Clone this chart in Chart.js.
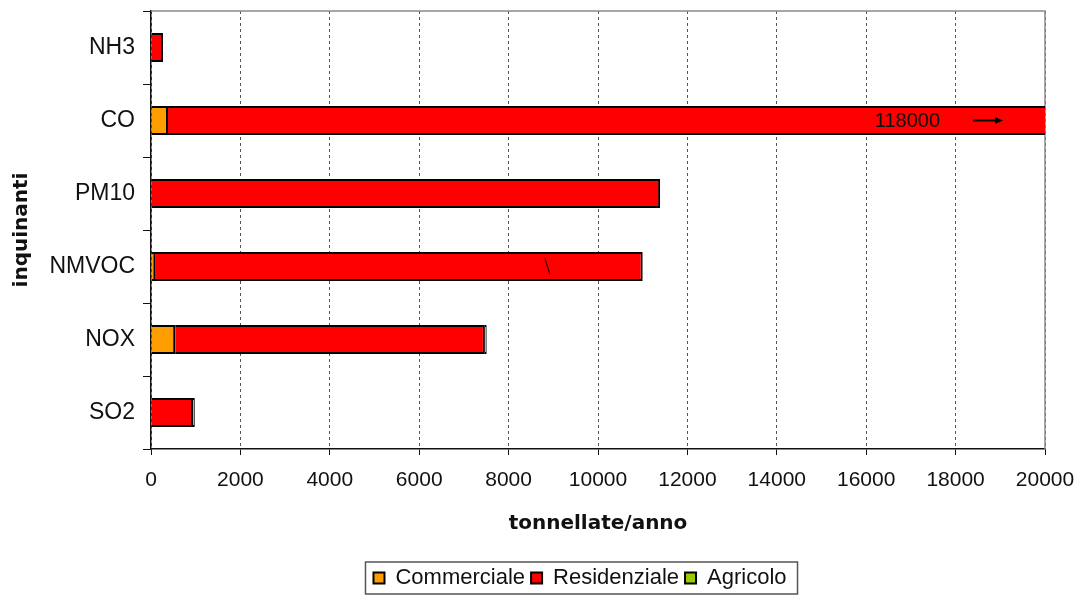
<!DOCTYPE html>
<html>
<head>
<meta charset="utf-8">
<script src="https://cdn.jsdelivr.net/npm/chart.js@4"></script>
<style>
  html, body { margin: 0; padding: 0; background: #fff; }
</style>
</head>
<body>
<canvas id="grafico" width="1076" height="599"></canvas>
<script>
// Emissioni per settore (tonnellate/anno)
const inquinanti = ['NH3', 'CO', 'PM10', 'NMVOC', 'NOX', 'SO2'];
const commerciale = [0, 380, 0, 90, 540, 0];
const residenziale = [270, 118000, 11390, 10910, 6930, 940];
const agricolo = [0, 0, 0, 0, 40, 40];
const scalaMax = 20000;
const scalaPasso = 2000;

const fontTesto = '"Liberation Sans", Arial, sans-serif';
const fontTitolo = '"DejaVu Sans", Verdana, sans-serif';

// cornice dell'area, valore fuori scala di CO e riquadro della legenda
const decorazioni = {
    id: 'decorazioni',
    afterLayout(chart) {
        // sposta un po' la legenda verso sinistra
        chart.legend.left -= 18;
        chart.legend.right -= 18;
    },
    beforeDatasetsDraw(chart) {
        const { ctx, chartArea: a } = chart;
        ctx.save();
        ctx.strokeStyle = '#8a8a8a';
        ctx.lineWidth = 1.5;
        ctx.beginPath();
        ctx.moveTo(a.left, a.top);
        ctx.lineTo(a.right, a.top);
        ctx.lineTo(a.right, a.bottom);
        ctx.stroke();
        ctx.restore();
    },
    afterDatasetsDraw(chart) {
        const { ctx, chartArea: a, scales: { x, y } } = chart;
        const i = inquinanti.indexOf('CO');
        const yc = y.getPixelForValue(i);
        ctx.save();
        ctx.fillStyle = '#111';
        ctx.font = '20px ' + fontTesto;
        ctx.textAlign = 'right';
        ctx.textBaseline = 'middle';
        ctx.fillText(String(residenziale[i]), a.right - 105, yc + 1);

        // freccia
        ctx.strokeStyle = '#000';
        ctx.lineWidth = 2;
        ctx.beginPath();
        ctx.moveTo(a.right - 72, yc);
        ctx.lineTo(a.right - 48, yc);
        ctx.stroke();
        ctx.fillStyle = '#000';
        ctx.beginPath();
        ctx.moveTo(a.right - 42, yc);
        ctx.lineTo(a.right - 50, yc - 3.5);
        ctx.lineTo(a.right - 50, yc + 3.5);
        ctx.closePath();
        ctx.fill();

        // segno sulla barra NMVOC
        const j = inquinanti.indexOf('NMVOC');
        const yj = y.getPixelForValue(j);
        const xs = x.getPixelForValue(8880);
        ctx.strokeStyle = '#3a0000';
        ctx.lineWidth = 1.2;
        ctx.beginPath();
        ctx.moveTo(xs - 3, yj - 8);
        ctx.lineTo(xs + 2, yj + 8);
        ctx.stroke();
        ctx.restore();
    },
    afterDraw(chart) {
        const hb = chart.legend.legendHitBoxes;
        if (!hb || !hb.length) return;
        const ultimo = hb[hb.length - 1];
        const sx = hb[0].left - 8;
        const dx = ultimo.left + ultimo.width + 11;
        const cy = hb[0].top + hb[0].height / 2;
        const { ctx } = chart;
        ctx.save();
        ctx.strokeStyle = '#555';
        ctx.lineWidth = 1.5;
        ctx.strokeRect(sx, cy - 16, dx - sx, 32);
        ctx.restore();
    }
};

function creaGrafico() {
    const ctx = document.getElementById('grafico').getContext('2d');

    new Chart(ctx, {
        type: 'bar',
        data: {
            labels: inquinanti,
            datasets: [
                {
                    label: 'Commerciale',
                    data: commerciale,
                    backgroundColor: '#ff9d00',
                    borderColor: '#000',
                    borderWidth: 2
                },
                {
                    label: 'Residenziale',
                    data: residenziale,
                    backgroundColor: '#ff0000',
                    borderColor: '#000',
                    borderWidth: 2
                },
                {
                    label: 'Agricolo',
                    data: agricolo,
                    backgroundColor: '#99cc00',
                    borderColor: '#000',
                    borderWidth: 2
                }
            ]
        },
        options: {
            indexAxis: 'y',
            responsive: false,
            animation: false,
            barPercentage: 0.4,
            categoryPercentage: 1,
            layout: {
                padding: { top: 11, right: 31, left: 0, bottom: 0 }
            },
            scales: {
                x: {
                    stacked: true,
                    min: 0,
                    max: scalaMax,
                    afterFit: (scala) => {
                        scala.height = 112;
                        scala.paddingLeft = 0;
                        scala.paddingRight = 0;
                    },
                    ticks: {
                        stepSize: scalaPasso,
                        padding: 13,
                        color: '#111',
                        font: { family: fontTesto, size: 21 },
                        maxRotation: 0,
                        callback: (v) => String(v)
                    },
                    grid: {
                        color: '#555',
                        lineWidth: 1,
                        tickLength: 6,
                        tickColor: '#111',
                        tickBorderDash: []
                    },
                    border: {
                        color: '#111',
                        width: 1.5,
                        dash: [3, 3]
                    },
                    title: {
                        display: true,
                        text: 'tonnellate/anno',
                        color: '#111',
                        font: { family: fontTitolo, size: 20, weight: 'bold' },
                        padding: { top: 0, bottom: 25 }
                    }
                },
                y: {
                    stacked: true,
                    afterFit: (scala) => {
                        scala.width = 151;
                        scala.paddingTop = 0;
                        scala.paddingBottom = 0;
                    },
                    ticks: {
                        padding: 8,
                        color: '#111',
                        font: { family: fontTesto, size: 23 }
                    },
                    grid: {
                        drawOnChartArea: false,
                        tickLength: 8,
                        tickColor: '#111'
                    },
                    border: {
                        color: '#111',
                        width: 1.5
                    },
                    title: {
                        display: true,
                        text: 'inquinanti',
                        color: '#111',
                        font: { family: fontTitolo, size: 20, weight: 'bold' },
                        padding: { top: 10, bottom: 0 }
                    }
                }
            },
            plugins: {
                legend: {
                    position: 'bottom',
                    fullSize: false,
                    labels: {
                        boxWidth: 11,
                        boxHeight: 11,
                        padding: 6,
                        color: '#111',
                        font: { family: fontTesto, size: 22 }
                    }
                },
                tooltip: { enabled: false }
            }
        },
        plugins: [decorazioni]
    });
}

document.addEventListener('DOMContentLoaded', () => {
    creaGrafico();
});
</script>
</body>
</html>
